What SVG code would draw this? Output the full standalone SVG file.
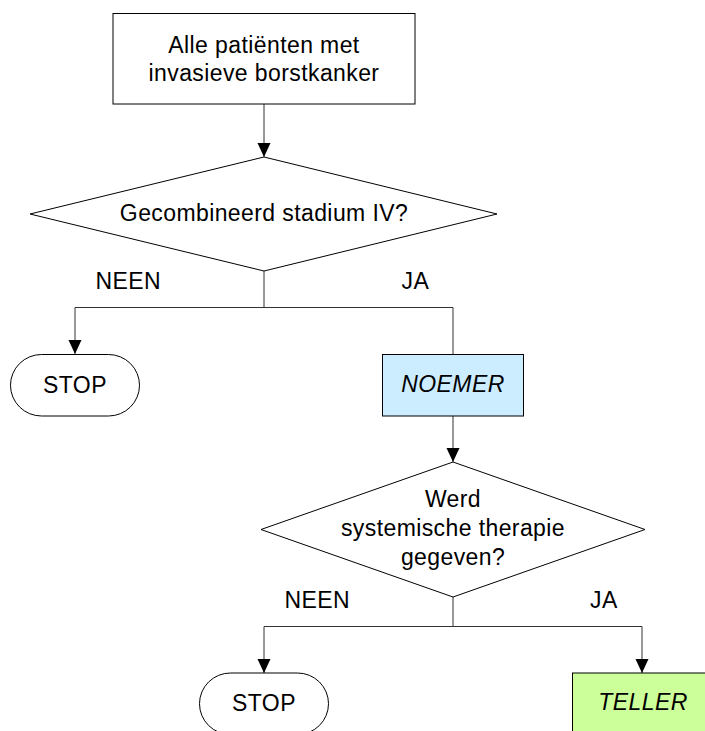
<svg xmlns="http://www.w3.org/2000/svg" width="705" height="731" viewBox="0 0 705 731">
  <style>
    .shape { stroke: #000; stroke-width: 1; }
    .plain { fill: #fff; }
    .noemer { fill: #ccecff; }
    .teller { fill: #ccff99; }
    .lbl { font-family: "Liberation Sans", Arial, sans-serif; font-size: 23px; letter-spacing: 0.4px; fill: #000; }
    .mid { text-anchor: middle; }
    .it { font-style: italic; }
    .wire { fill: none; stroke: #333; stroke-width: 1; }
  </style>
  <defs>
    <marker id="arrow" markerUnits="userSpaceOnUse" markerWidth="14" markerHeight="14" refX="14" refY="7" orient="auto">
      <path d="M0,0.5 L14,7 L0,13.5 z" fill="#000"/>
    </marker>
  </defs>
  <rect width="705" height="731" fill="#fff"/>

  <!-- connectors -->
  <g id="connectors">
    <path class="wire" d="M264,104 V157" marker-end="url(#arrow)"/>
    <path class="wire" d="M264,271 V307.5 H75 V354" marker-end="url(#arrow)"/>
    <path class="wire" d="M264,307.5 H453 V354"/>
    <path class="wire" d="M453,416 V462" marker-end="url(#arrow)"/>
    <path class="wire" d="M453,597 V626.5 H264 V673" marker-end="url(#arrow)"/>
    <path class="wire" d="M453,626.5 H642 V673" marker-end="url(#arrow)"/>
  </g>

  <!-- start -->
  <g id="start">
    <rect class="shape plain" x="113" y="13.5" width="302" height="90.5"/>
    <text class="lbl mid" x="264" y="52.5">Alle patiënten met</text>
    <text class="lbl mid" x="264" y="80.5">invasieve borstkanker</text>
  </g>

  <!-- decision: stage IV -->
  <g id="decision-stage">
    <polygon class="shape plain" points="264,157 497,214 264,271 30,214"/>
    <text class="lbl mid" x="264" y="221">Gecombineerd stadium IV?</text>
  </g>
  <g id="label-neen-1"><text class="lbl" x="95.5" y="289">NEEN</text></g>
  <g id="label-ja-1"><text class="lbl" x="401.5" y="289">JA</text></g>

  <!-- stop 1 -->
  <g id="stop-1">
    <rect class="shape plain" x="10.5" y="354.5" width="129" height="61.5" rx="31" ry="31"/>
    <text class="lbl mid" x="75" y="393">STOP</text>
  </g>

  <!-- noemer -->
  <g id="noemer">
    <rect class="shape noemer" x="382.5" y="354.5" width="141" height="61.5"/>
    <text class="lbl mid it" x="453" y="392">NOEMER</text>
  </g>

  <!-- decision: systemic therapy -->
  <g id="decision-therapy">
    <polygon class="shape plain" points="453,462 645,529.5 453,597 261,529.5"/>
    <text class="lbl mid" x="453" y="507">Werd</text>
    <text class="lbl mid" x="453" y="536">systemische therapie</text>
    <text class="lbl mid" x="453" y="565">gegeven?</text>
  </g>
  <g id="label-neen-2"><text class="lbl" x="284.5" y="608">NEEN</text></g>
  <g id="label-ja-2"><text class="lbl" x="590" y="608">JA</text></g>

  <!-- stop 2 -->
  <g id="stop-2">
    <rect class="shape plain" x="199.5" y="673" width="129" height="61.5" rx="31" ry="31"/>
    <text class="lbl mid" x="264" y="711">STOP</text>
  </g>

  <!-- teller -->
  <g id="teller">
    <rect class="shape teller" x="572.5" y="673" width="141" height="61.5"/>
    <text class="lbl mid it" x="643" y="710">TELLER</text>
  </g>
</svg>
